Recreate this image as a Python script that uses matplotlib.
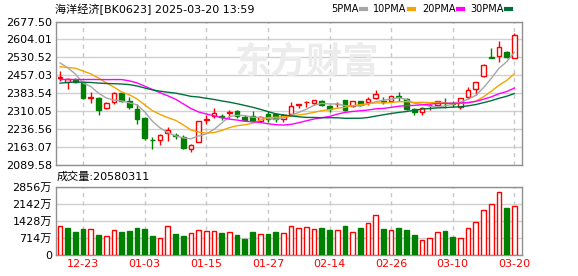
import matplotlib
matplotlib.use('Agg')
import matplotlib.pyplot as plt
from matplotlib.lines import Line2D
import numpy as np
import pandas as pd

plt.rcParams['font.family'] = ['DejaVu Sans', 'Noto Sans CJK SC']

title = '海洋经济[BK0623] 2025-03-20 13:59'

dates = ['12-18', '12-19', '12-20', '12-23', '12-24', '12-25', '12-26', '12-27', '12-30', '12-31',
         '01-02', '01-03', '01-06', '01-07', '01-08', '01-09', '01-10', '01-13', '01-14', '01-15',
         '01-16', '01-17', '01-20', '01-21', '01-22', '01-23', '01-24', '01-27', '02-05', '02-06',
         '02-07', '02-10', '02-11', '02-12', '02-13', '02-14', '02-17', '02-18', '02-19', '02-20',
         '02-21', '02-24', '02-25', '02-26', '02-27', '02-28', '03-03', '03-04', '03-05', '03-06',
         '03-07', '03-10', '03-11', '03-12', '03-13', '03-14', '03-17', '03-18', '03-19', '03-20']

opens = [2448, 2430, 2438, 2427, 2366, 2364, 2322, 2346, 2384, 2350,
         2319, 2282, 2193, 2190, 2219, 2212, 2204, 2157, 2184, 2275,
         2289, 2290, 2304, 2312, 2288, 2290, 2270, 2297, 2297, 2280,
         2300, 2334, 2347, 2344, 2353, 2330, 2338, 2356, 2330, 2353,
         2348, 2364, 2352, 2351, 2373, 2360, 2319, 2306, 2334, 2334,
         2345, 2345, 2328, 2367, 2402, 2456, 2532, 2538, 2551, 2527]
highs = [2474, 2447, 2447, 2431, 2387, 2367, 2346, 2389, 2389, 2370,
         2339, 2285, 2206, 2217, 2245, 2222, 2213, 2177, 2270, 2294,
         2322, 2299, 2316, 2316, 2295, 2310, 2292, 2312, 2302, 2299,
         2348, 2340, 2353, 2356, 2357, 2334, 2348, 2357, 2353, 2353,
         2367, 2397, 2367, 2374, 2388, 2364, 2323, 2326, 2340, 2353,
         2364, 2353, 2364, 2410, 2429, 2502, 2567, 2597, 2557, 2631]
lows = [2434, 2403, 2425, 2362, 2344, 2295, 2319, 2339, 2346, 2319,
        2258, 2190, 2156, 2170, 2186, 2197, 2156, 2143, 2183, 2258,
        2281, 2274, 2281, 2281, 2272, 2268, 2265, 2265, 2265, 2265,
        2296, 2324, 2326, 2334, 2333, 2307, 2326, 2310, 2327, 2330,
        2334, 2361, 2340, 2348, 2353, 2316, 2296, 2296, 2315, 2330,
        2324, 2326, 2317, 2361, 2378, 2452, 2530, 2513, 2527, 2527]
closes = [2451, 2441, 2430, 2365, 2368, 2316, 2343, 2384, 2350, 2328,
          2276, 2201, 2190, 2212, 2234, 2209, 2159, 2171, 2269, 2276,
          2303, 2288, 2306, 2291, 2272, 2270, 2285, 2280, 2278, 2296,
          2330, 2340, 2348, 2356, 2337, 2317, 2340, 2314, 2351, 2337,
          2361, 2380, 2348, 2371, 2369, 2319, 2307, 2324, 2335, 2351,
          2343, 2341, 2364, 2397, 2429, 2500, 2530, 2571, 2531, 2622]
# volume in 万
volumes = [1197, 1114, 949, 1073, 1073, 825, 811, 1032, 949, 990,
           1114, 1073, 784, 729, 1197, 867, 784, 908, 1059, 1018,
           1018, 908, 949, 825, 660, 949, 867, 867, 949, 908,
           1197, 1142, 1183, 1100, 1114, 1032, 1059, 1197, 976, 1114,
           1348, 1692, 1073, 1059, 1114, 1032, 825, 646, 729, 976,
           990, 743, 729, 1142, 1389, 1885, 2133, 2628, 1981, 2058.0311]

# closes before the visible window, only used to warm up the moving averages
prior_closes = [2360, 2375, 2390, 2400, 2385, 2395, 2410, 2390, 2400, 2445,
                2445, 2428, 2370, 2362, 2320, 2348, 2380, 2352, 2430, 2445,
                2470, 2460, 2480, 2486, 2484, 2540, 2560, 2549, 2440]

ma_windows = [5, 10, 20, 30]
ma_colors = ['#a6a6a6', '#f5a400', '#ff00ff', '#00703a']

red = '#ff0000'
green = '#008000'

o = np.array(opens, float)
h = np.array(highs, float)
l = np.array(lows, float)
c = np.array(closes, float)
v = np.array(volumes, float)
x = np.arange(len(dates))

all_close = pd.Series(prior_closes + closes, dtype=float)
mas = {w: all_close.rolling(w).mean().values[len(prior_closes):] for w in ma_windows}

prev = np.r_[prior_closes[-1], c[:-1]]
candle_up = (c > o) | ((c == o) & (c >= prev))
vol_up = c >= prev

fig = plt.figure(figsize=(5.78, 2.76), dpi=100)
W, H = 578.0, 276.0
ax = fig.add_axes([56 / W, 1 - 165 / H, 466 / W, 143.5 / H])
axv = fig.add_axes([56 / W, 1 - 255 / H, 466 / W, 68.3 / H])

xlim = (-0.52, 60.0)
lab_idx = x[3::8]

# ---- price panel
pmin, pmax = 2089.58, 2677.50
ax.set_ylim(pmin, pmax)
ax.set_xlim(*xlim)
yt = np.linspace(pmin, pmax, 9)
ax.set_yticks(yt)
ax.set_yticklabels(['%.2f' % t for t in yt], fontsize=8)
ax.set_xticks(lab_idx)
ax.set_xticklabels([])
for t in yt:
    ax.axhline(t, color='#d0d0d0', lw=1, zorder=0)
for i in lab_idx:
    ax.axvline(i, color='#c8c8c8', lw=1, ls=(0, (3, 3)), zorder=0)

ax.text(0.54, 0.72, '东方财富', transform=ax.transAxes, fontsize=26, color='#ececec',
        ha='center', va='center', family=['Noto Sans CJK SC'], zorder=0, fontweight='bold')

cols = np.where(candle_up, red, green)
faces = np.where(candle_up, 'white', green)
ax.vlines(x, l, h, colors=cols, lw=1, zorder=2)
body_lo = np.minimum(o, c)
body_h = np.maximum(np.abs(c - o), 0.8)
ax.bar(x, body_h, bottom=body_lo, width=0.62, color=faces, edgecolor=cols, lw=1, zorder=3)

for w, col in zip(ma_windows, ma_colors):
    ax.plot(x, mas[w], color=col, lw=1, zorder=4)

# ---- volume panel
vmax = 2856
axv.set_ylim(0, vmax)
axv.set_xlim(*xlim)
vt = np.linspace(0, vmax, 5)
axv.set_yticks(vt)
axv.set_yticklabels(['0'] + ['%d万' % t for t in vt[1:]], fontsize=8)
axv.set_xticks(lab_idx)
axv.set_xticklabels([dates[i] for i in lab_idx], fontsize=8, color=red)
for t in vt:
    axv.axhline(t, color='#d0d0d0', lw=1, zorder=0)
for i in lab_idx:
    axv.axvline(i, color='#c8c8c8', lw=1, ls=(0, (3, 3)), zorder=0)
vcols = np.where(vol_up, red, green)
vfaces = np.where(vol_up, 'white', green)
axv.bar(x, v, width=0.62, color=vfaces, edgecolor=vcols, lw=1, zorder=3)

for a in (ax, axv):
    a.tick_params(length=0, pad=3)
    for s in a.spines.values():
        s.set_color('#909090')
        s.set_linewidth(1)

fig.text(55 / W, 1 - 9 / H, title, va='center', fontsize=8)
fig.text(57 / W, 1 - 177 / H, '成交量:%d' % round(v[-1] * 10000), va='center', fontsize=8)

handles = [Line2D([], [], color=col, lw=3) for col in ma_colors]
labels = ['%dPMA' % w for w in ma_windows]
fig.legend(handles, labels, loc='center right', bbox_to_anchor=(511 / W, 1 - 9 / H),
           ncol=4, frameon=False, markerfirst=False, fontsize=7, handlelength=0.5,
           handletextpad=0.25, columnspacing=0.8, borderpad=0, borderaxespad=0)

fig.savefig('out.png', dpi=100)
